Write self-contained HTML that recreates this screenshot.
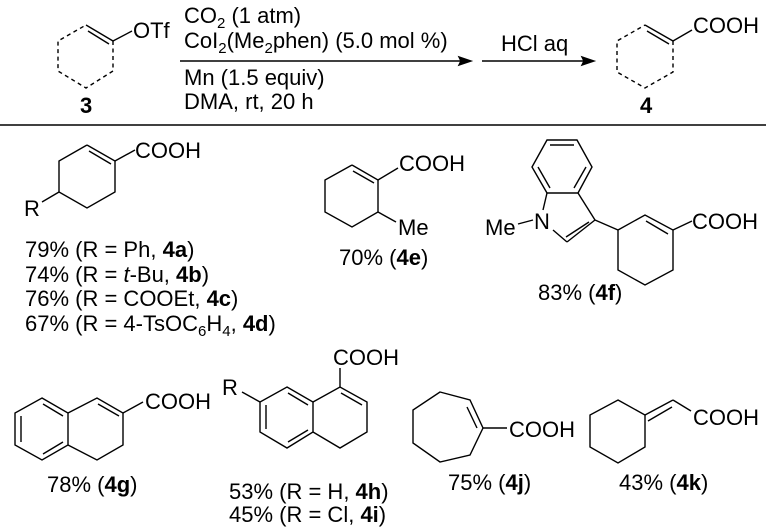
<!DOCTYPE html>
<html><head><meta charset="utf-8"><style>
html,body{margin:0;padding:0;background:#fff;}
svg{display:block;}
text{font-family:"Liberation Sans",Arial,sans-serif;font-size:22px;fill:#000;}
.b{font-weight:bold;}
.s{font-size:15px;}
line,polyline,polygon{stroke:#000;stroke-width:1.4;fill:none;}
.d{stroke-dasharray:4,3.5;}
</style></head><body>
<svg width="770" height="529" viewBox="0 0 770 529" xmlns="http://www.w3.org/2000/svg">
<!-- substrate 3 -->
<line x1="86" y1="25" x2="113" y2="41"/>
<line x1="88" y1="31" x2="109" y2="44"/>
<polyline class="d" points="113,41 113,71 86,88 58,71 58,41 86,25"/>
<line x1="113" y1="41" x2="132" y2="31"/>
<text x="133" y="38">OTf</text>
<text x="80" y="113" class="b">3</text>
<!-- reagents -->
<text x="184" y="23">CO<tspan class="s" dy="5">2</tspan><tspan dy="-5"> (1 atm)</tspan></text>
<text x="184" y="48">CoI<tspan class="s" dy="5">2</tspan><tspan dy="-5">(Me</tspan><tspan class="s" dy="5">2</tspan><tspan dy="-5">phen) (5.0 mol %)</tspan></text>
<line x1="180" y1="61" x2="462" y2="61"/>
<polygon points="471,61 459,57 461,61 459,65" style="fill:#000"/>
<text x="184" y="85">Mn (1.5 equiv)</text>
<text x="184" y="109">DMA, rt, 20 h</text>
<line x1="482" y1="61" x2="585" y2="61"/>
<polygon points="594,61 582,57 584,61 582,65" style="fill:#000"/>
<text x="501" y="51">HCl aq</text>
<!-- product 4 -->
<line x1="645" y1="25" x2="673" y2="41"/>
<line x1="647" y1="31" x2="669" y2="44"/>
<polyline class="d" points="673,41 673,72 645,88 617,72 617,41 645,25"/>
<line x1="673" y1="41" x2="692" y2="30"/>
<text x="693" y="33">COOH</text>
<text x="640" y="113" class="b">4</text>
<line x1="0" y1="125" x2="766" y2="125" style="stroke-width:1.6"/>
<!-- 4a -->
<polyline points="87,145 115,161 115,192 87,208 59,192 59,161 87,145"/>
<line x1="89" y1="151" x2="111" y2="164"/>
<line x1="115" y1="161" x2="135" y2="150"/>
<text x="135" y="158">COOH</text>
<line x1="59" y1="192" x2="42" y2="202"/>
<text x="24" y="216">R</text>
<text x="25" y="257">79% (R = Ph, <tspan class="b">4a</tspan>)</text>
<text x="25" y="282">74% (R = <tspan font-style="italic">t</tspan>-Bu, <tspan class="b">4b</tspan>)</text>
<text x="25" y="306">76% (R = COOEt, <tspan class="b">4c</tspan>)</text>
<text x="25" y="331">67% (R = 4-TsOC<tspan class="s" dy="5">6</tspan><tspan dy="-5">H</tspan><tspan class="s" dy="5">4</tspan><tspan dy="-5">, </tspan><tspan class="b">4d</tspan>)</text>
<!-- 4e -->
<polyline points="352,165 378,180 378,212 352,227 325,212 325,180 352,165"/>
<line x1="353" y1="171" x2="374" y2="183"/>
<line x1="378" y1="180" x2="398" y2="168"/>
<text x="399" y="171">COOH</text>
<line x1="378" y1="212" x2="396" y2="222"/>
<text x="398" y="235">Me</text>
<text x="339" y="265">70% (<tspan class="b">4e</tspan>)</text>
<!-- 4f -->
<polygon points="547,140 577,140 592,167 578,193 547,193 532,167"/>
<line x1="550" y1="145" x2="574" y2="145"/>
<line x1="586" y1="167" x2="574" y2="188"/>
<line x1="538" y1="167" x2="550" y2="188"/>
<line x1="547" y1="193" x2="543" y2="210"/>
<line x1="578" y1="193" x2="595" y2="220"/>
<line x1="595" y1="220" x2="567" y2="242"/>
<line x1="589" y1="222" x2="566" y2="237"/>
<line x1="567" y1="242" x2="553" y2="230"/>
<text x="534" y="229">N</text>
<line x1="533" y1="220" x2="518" y2="224"/>
<text x="485" y="235">Me</text>
<line x1="595" y1="220" x2="618" y2="230"/>
<polyline points="618,230 645,215 673,230 673,270 645,285 618,270 618,230"/>
<line x1="646" y1="221" x2="668" y2="234"/>
<line x1="673" y1="230" x2="692" y2="221"/>
<text x="692" y="229">COOH</text>
<text x="538" y="300">83% (<tspan class="b">4f</tspan>)</text>
<!-- 4g -->
<polygon points="42,398 68,413 68,445 42,460 15,445 15,413"/>
<line x1="21" y1="416" x2="21" y2="442"/>
<line x1="43" y1="404" x2="63" y2="416"/>
<line x1="43" y1="454" x2="63" y2="442"/>
<polyline points="68,413 97,398 123,413 123,445 97,460 68,445"/>
<line x1="98" y1="404" x2="119" y2="416"/>
<line x1="123" y1="413" x2="143" y2="402"/>
<text x="145" y="409">COOH</text>
<text x="47" y="492">78% (<tspan class="b">4g</tspan>)</text>
<!-- 4h -->
<polygon points="287,387 313,402 313,432 287,448 260,432 260,402"/>
<line x1="266" y1="405" x2="266" y2="429"/>
<line x1="288" y1="393" x2="308" y2="405"/>
<line x1="288" y1="442" x2="308" y2="430"/>
<polyline points="313,402 340,387 367,402 367,432 340,448 313,432"/>
<line x1="341" y1="393" x2="362" y2="405"/>
<line x1="340" y1="387" x2="340" y2="368"/>
<text x="333" y="365">COOH</text>
<line x1="260" y1="402" x2="242" y2="392"/>
<text x="222" y="395">R</text>
<text x="229" y="499">53% (R = H, <tspan class="b">4h</tspan>)</text>
<text x="229" y="522">45% (R = Cl, <tspan class="b">4i</tspan>)</text>
<!-- 4j -->
<polygon points="440,392 470,400 483,428 470,455 440,462 413,443 413,410"/>
<line x1="467" y1="407" x2="477" y2="428"/>
<line x1="483" y1="428" x2="507" y2="428"/>
<text x="509" y="437">COOH</text>
<text x="448" y="490">75% (<tspan class="b">4j</tspan>)</text>
<!-- 4k -->
<polygon points="618,400 645,415 645,447 618,463 590,447 590,415"/>
<line x1="645" y1="415" x2="673" y2="400"/>
<line x1="648" y1="421" x2="672" y2="407"/>
<line x1="673" y1="400" x2="691" y2="411"/>
<text x="693" y="425">COOH</text>
<text x="619" y="490">43% (<tspan class="b">4k</tspan>)</text>
</svg>
</body></html>
